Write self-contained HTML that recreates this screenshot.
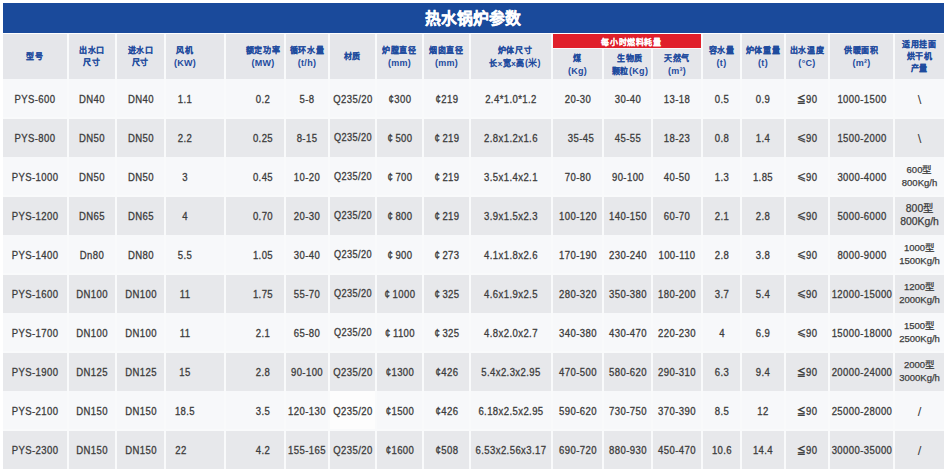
<!DOCTYPE html>
<html lang="zh-CN"><head><meta charset="utf-8"><title>热水锅炉参数</title>
<style>
html,body{margin:0;padding:0;background:#fff;}
body{width:950px;height:473px;position:relative;overflow:hidden;font-family:"Liberation Sans",sans-serif;}
.c{position:absolute;display:flex;align-items:center;justify-content:center;text-align:center;white-space:nowrap;}
.t{position:absolute;left:0;top:50%;width:300px;margin-left:-150px;transform:translateY(-50%);white-space:nowrap;text-align:center;}
.ttl{color:#fff;font-weight:bold;font-size:15.8px;-webkit-text-stroke:0.3px #fff;margin-left:-151px;transform:translateY(calc(-50% - 0.5px));}
.h{color:#1e4b9e;font-weight:900;font-size:8px;letter-spacing:0.6px;line-height:12px;-webkit-text-stroke:0.1px #1e4b9e;}
.d{color:#3c3c3c;font-size:10.6px;line-height:13px;font-weight:normal;-webkit-text-stroke:0.3px #3c3c3c;letter-spacing:0.45px;transform:translateY(calc(-50% + 1px)) scaleX(0.9);}
.le{font-size:9.5px;font-weight:normal;-webkit-text-stroke:0.5px #3c3c3c;}
.cs{margin-right:2.5px;}
.ct{}
.qs{font-size:10.2px;position:relative;top:-1.5px;}
.le2{position:relative;top:-1.5px;font-size:11.5px;font-weight:normal;-webkit-text-stroke:0.2px #3c3c3c;}
.d2{font-size:9.5px;line-height:12.9px;letter-spacing:0;-webkit-text-stroke:0.25px #3c3c3c;transform:translateY(calc(-50% + 0.5px)) scaleX(1);}
.d3{font-size:10.4px;line-height:13.3px;letter-spacing:0;-webkit-text-stroke:0.25px #3c3c3c;transform:translateY(calc(-50% + 0.5px)) scaleX(1);}
.sl{font-weight:normal;font-size:13px;letter-spacing:0;-webkit-text-stroke:0;transform:translateY(calc(-50% + 1.5px)) scaleX(1);}
.sub{transform:translateY(calc(-50% + 1.5px));}
.lat{font-size:9px;letter-spacing:0.3px;font-weight:bold;-webkit-text-stroke:0;}
.rd{color:#fff;font-weight:900;font-size:8px;letter-spacing:0.6px;-webkit-text-stroke:0.1px #fff;}
</style></head><body>

<div style="position:absolute;left:3px;top:3px;width:941px;height:30px;background:#1a4a9b"><div class="t ttl" style="left:470.5px">热水锅炉参数</div></div>
<div style="position:absolute;left:3px;top:34px;width:941px;height:435px;background:#f9fafb"></div>
<div style="position:absolute;left:3px;top:34px;width:64px;height:45px;background:#e5e6ea"><div class="t h" style="left:32px">型号</div></div>
<div style="position:absolute;left:69px;top:34px;width:46px;height:45px;background:#e5e6ea"><div class="t h" style="left:23px">出水口<br>尺寸</div></div>
<div style="position:absolute;left:117px;top:34px;width:47px;height:45px;background:#e5e6ea"><div class="t h" style="left:23.5px">进水口<br>尺寸</div></div>
<div style="position:absolute;left:166px;top:34px;width:58px;height:45px;background:#e5e6ea"><div class="t h" style="left:19px">风机<br><span class="lat">(KW)</span></div></div>
<div style="position:absolute;left:226px;top:34px;width:58px;height:45px;background:#e5e6ea"><div class="t h" style="left:37px">额定功率<br><span class="lat">(MW)</span></div></div>
<div style="position:absolute;left:286px;top:34px;width:42px;height:45px;background:#e5e6ea"><div class="t h" style="left:21px">循环水量<br><span class="lat">(t/h)</span></div></div>
<div style="position:absolute;left:330px;top:34px;width:45px;height:45px;background:#e5e6ea"><div class="t h" style="left:22.5px">材质</div></div>
<div style="position:absolute;left:377px;top:34px;width:45px;height:45px;background:#e5e6ea"><div class="t h" style="left:22.5px">炉膛直径<br><span class="lat">(mm)</span></div></div>
<div style="position:absolute;left:424px;top:34px;width:45px;height:45px;background:#e5e6ea"><div class="t h" style="left:22.5px">烟囱直径<br><span class="lat">(mm)</span></div></div>
<div style="position:absolute;left:471px;top:34px;width:80px;height:45px;background:#e5e6ea"><div class="t h" style="left:44px">炉体尺寸<br>长x宽x高<span class="lat">(米)</span></div></div>
<div style="position:absolute;left:703px;top:34px;width:37px;height:45px;background:#e5e6ea"><div class="t h" style="left:18.5px">容水量<br><span class="lat">(t)</span></div></div>
<div style="position:absolute;left:742px;top:34px;width:42px;height:45px;background:#e5e6ea"><div class="t h" style="left:21px">炉体重量<br><span class="lat">(t)</span></div></div>
<div style="position:absolute;left:786px;top:34px;width:42px;height:45px;background:#e5e6ea"><div class="t h" style="left:21px">出水温度<br><span class="lat">(°C)</span></div></div>
<div style="position:absolute;left:830px;top:34px;width:63px;height:45px;background:#e5e6ea"><div class="t h" style="left:31.5px">供暖面积<br><span class="lat">(m²)</span></div></div>
<div style="position:absolute;left:895px;top:34px;width:49px;height:45px;background:#e5e6ea"><div class="t h" style="left:24.5px">适用挂面<br>烘干机<br>产量</div></div>
<div style="position:absolute;left:553px;top:34px;width:148px;height:14px;background:#e0202b"><div class="t rd" style="left:78.6px">每小时燃料耗量</div></div>
<div style="position:absolute;left:553px;top:49px;width:49px;height:30px;background:#e5e6ea"><div class="t h sub" style="left:24.5px">煤<br><span class="lat">(Kg)</span></div></div>
<div style="position:absolute;left:604px;top:49px;width:47px;height:30px;background:#e5e6ea"><div class="t h sub" style="left:26px">生物质<br>颗粒<span class="lat">(Kg)</span></div></div>
<div style="position:absolute;left:653px;top:49px;width:48px;height:30px;background:#e5e6ea"><div class="t h sub" style="left:24px">天然气<br><span class="lat">(m³)</span></div></div>
<div style="position:absolute;left:3px;top:79px;width:64px;height:38px;background:#f7f8fa"><div class="t d" style="left:32px">PYS-600</div></div>
<div style="position:absolute;left:69px;top:79px;width:46px;height:38px;background:#f7f8fa"><div class="t d" style="left:23px">DN40</div></div>
<div style="position:absolute;left:117px;top:79px;width:47px;height:38px;background:#f7f8fa"><div class="t d" style="left:23.5px">DN40</div></div>
<div style="position:absolute;left:166px;top:79px;width:58px;height:38px;background:#f7f8fa"><div class="t d" style="left:19px">1.1</div></div>
<div style="position:absolute;left:226px;top:79px;width:58px;height:38px;background:#f7f8fa"><div class="t d" style="left:37px">0.2</div></div>
<div style="position:absolute;left:286px;top:79px;width:42px;height:38px;background:#f7f8fa"><div class="t d" style="left:21px">5-8</div></div>
<div style="position:absolute;left:330px;top:79px;width:45px;height:38px;background:#f7f8fa"><div class="t d" style="left:22.5px">Q235/20</div></div>
<div style="position:absolute;left:377px;top:79px;width:45px;height:38px;background:#f7f8fa"><div class="t d" style="left:22.5px"><span class="ct">¢</span>300</div></div>
<div style="position:absolute;left:424px;top:79px;width:45px;height:38px;background:#f7f8fa"><div class="t d" style="left:22.5px"><span class="ct">¢</span>219</div></div>
<div style="position:absolute;left:471px;top:79px;width:80px;height:38px;background:#f7f8fa"><div class="t d" style="left:40px">2.4*1.0*1.2</div></div>
<div style="position:absolute;left:553px;top:79px;width:49px;height:38px;background:#f7f8fa"><div class="t d" style="left:24.5px">20-30</div></div>
<div style="position:absolute;left:604px;top:79px;width:47px;height:38px;background:#f7f8fa"><div class="t d" style="left:23.5px">30-40</div></div>
<div style="position:absolute;left:653px;top:79px;width:48px;height:38px;background:#f7f8fa"><div class="t d" style="left:24px">13-18</div></div>
<div style="position:absolute;left:703px;top:79px;width:37px;height:38px;background:#f7f8fa"><div class="t d" style="left:18.5px">0.5</div></div>
<div style="position:absolute;left:742px;top:79px;width:42px;height:38px;background:#f7f8fa"><div class="t d" style="left:21px">0.9</div></div>
<div style="position:absolute;left:786px;top:79px;width:42px;height:38px;background:#f7f8fa"><div class="t d" style="left:21px"><span class="le">≦</span>90</div></div>
<div style="position:absolute;left:830px;top:79px;width:63px;height:38px;background:#f7f8fa"><div class="t d" style="left:31.5px">1000-1500</div></div>
<div style="position:absolute;left:895px;top:79px;width:49px;height:38px;background:#f7f8fa"><div class="t d sl" style="left:24.5px">\</div></div>
<div style="position:absolute;left:3px;top:119px;width:64px;height:38px;background:#e7e8eb"><div class="t d" style="left:32px;top:calc(50% + -0.8px)">PYS-800</div></div>
<div style="position:absolute;left:69px;top:119px;width:46px;height:38px;background:#e7e8eb"><div class="t d" style="left:23px;top:calc(50% + -0.8px)">DN50</div></div>
<div style="position:absolute;left:117px;top:119px;width:47px;height:38px;background:#e7e8eb"><div class="t d" style="left:23.5px;top:calc(50% + -0.8px)">DN50</div></div>
<div style="position:absolute;left:166px;top:119px;width:58px;height:38px;background:#e7e8eb"><div class="t d" style="left:19px;top:calc(50% + -0.8px)">2.2</div></div>
<div style="position:absolute;left:226px;top:119px;width:58px;height:38px;background:#e7e8eb"><div class="t d" style="left:37px;top:calc(50% + -0.8px)">0.25</div></div>
<div style="position:absolute;left:286px;top:119px;width:42px;height:38px;background:#e7e8eb"><div class="t d" style="left:21px;top:calc(50% + -0.8px)">8-15</div></div>
<div style="position:absolute;left:330px;top:119px;width:45px;height:38px;background:#e7e8eb"><div class="t d" style="left:22.5px;top:calc(50% + -0.8px)"><span class="qs">Q235/20</span></div></div>
<div style="position:absolute;left:377px;top:119px;width:45px;height:38px;background:#e7e8eb"><div class="t d" style="left:22.5px;top:calc(50% + -0.8px)"><span class="cs ct">¢</span>500</div></div>
<div style="position:absolute;left:424px;top:119px;width:45px;height:38px;background:#e7e8eb"><div class="t d" style="left:22.5px;top:calc(50% + -0.8px)"><span class="cs ct">¢</span>219</div></div>
<div style="position:absolute;left:471px;top:119px;width:80px;height:38px;background:#e7e8eb"><div class="t d" style="left:40px;top:calc(50% + -0.8px)">2.8x1.2x1.6</div></div>
<div style="position:absolute;left:553px;top:119px;width:49px;height:38px;background:#e7e8eb"><div class="t d" style="left:27.5px;top:calc(50% + -0.8px)">35-45</div></div>
<div style="position:absolute;left:604px;top:119px;width:47px;height:38px;background:#e7e8eb"><div class="t d" style="left:23.5px;top:calc(50% + -0.8px)">45-55</div></div>
<div style="position:absolute;left:653px;top:119px;width:48px;height:38px;background:#e7e8eb"><div class="t d" style="left:24px;top:calc(50% + -0.8px)">18-23</div></div>
<div style="position:absolute;left:703px;top:119px;width:37px;height:38px;background:#e7e8eb"><div class="t d" style="left:18.5px;top:calc(50% + -0.8px)">0.8</div></div>
<div style="position:absolute;left:742px;top:119px;width:42px;height:38px;background:#e7e8eb"><div class="t d" style="left:21px;top:calc(50% + -0.8px)">1.4</div></div>
<div style="position:absolute;left:786px;top:119px;width:42px;height:38px;background:#e7e8eb"><div class="t d" style="left:21px;top:calc(50% + -0.8px)"><span class="le2">⩽</span>90</div></div>
<div style="position:absolute;left:830px;top:119px;width:63px;height:38px;background:#e7e8eb"><div class="t d" style="left:31.5px;top:calc(50% + -0.8px)">1500-2000</div></div>
<div style="position:absolute;left:895px;top:119px;width:49px;height:38px;background:#e7e8eb"><div class="t d sl" style="left:24.5px;top:calc(50% + -0.8px)">\</div></div>
<div style="position:absolute;left:3px;top:157px;width:64px;height:38px;background:#f7f8fa"><div class="t d" style="left:32px">PYS-1000</div></div>
<div style="position:absolute;left:69px;top:157px;width:46px;height:38px;background:#f7f8fa"><div class="t d" style="left:23px">DN50</div></div>
<div style="position:absolute;left:117px;top:157px;width:47px;height:38px;background:#f7f8fa"><div class="t d" style="left:23.5px">DN50</div></div>
<div style="position:absolute;left:166px;top:157px;width:58px;height:38px;background:#f7f8fa"><div class="t d" style="left:19px">3</div></div>
<div style="position:absolute;left:226px;top:157px;width:58px;height:38px;background:#f7f8fa"><div class="t d" style="left:37px">0.45</div></div>
<div style="position:absolute;left:286px;top:157px;width:42px;height:38px;background:#f7f8fa"><div class="t d" style="left:21px">10-20</div></div>
<div style="position:absolute;left:330px;top:157px;width:45px;height:38px;background:#f7f8fa"><div class="t d" style="left:22.5px"><span class="qs">Q235/20</span></div></div>
<div style="position:absolute;left:377px;top:157px;width:45px;height:38px;background:#f7f8fa"><div class="t d" style="left:22.5px"><span class="cs ct">¢</span>700</div></div>
<div style="position:absolute;left:424px;top:157px;width:45px;height:38px;background:#f7f8fa"><div class="t d" style="left:22.5px"><span class="cs ct">¢</span>219</div></div>
<div style="position:absolute;left:471px;top:157px;width:80px;height:38px;background:#f7f8fa"><div class="t d" style="left:40px">3.5x1.4x2.1</div></div>
<div style="position:absolute;left:553px;top:157px;width:49px;height:38px;background:#f7f8fa"><div class="t d" style="left:24.5px">70-80</div></div>
<div style="position:absolute;left:604px;top:157px;width:47px;height:38px;background:#f7f8fa"><div class="t d" style="left:23.5px">90-100</div></div>
<div style="position:absolute;left:653px;top:157px;width:48px;height:38px;background:#f7f8fa"><div class="t d" style="left:24px">40-50</div></div>
<div style="position:absolute;left:703px;top:157px;width:37px;height:38px;background:#f7f8fa"><div class="t d" style="left:18.5px">1.3</div></div>
<div style="position:absolute;left:742px;top:157px;width:42px;height:38px;background:#f7f8fa"><div class="t d" style="left:21px">1.85</div></div>
<div style="position:absolute;left:786px;top:157px;width:42px;height:38px;background:#f7f8fa"><div class="t d" style="left:21px"><span class="le2">⩽</span>90</div></div>
<div style="position:absolute;left:830px;top:157px;width:63px;height:38px;background:#f7f8fa"><div class="t d" style="left:31.5px">3000-4000</div></div>
<div style="position:absolute;left:895px;top:157px;width:49px;height:38px;background:#f7f8fa"><div class="t d d2" style="left:24.5px">600型<br>800Kg/h</div></div>
<div style="position:absolute;left:3px;top:197px;width:64px;height:38px;background:#e7e8eb"><div class="t d" style="left:32px;top:calc(50% + -0.8px)">PYS-1200</div></div>
<div style="position:absolute;left:69px;top:197px;width:46px;height:38px;background:#e7e8eb"><div class="t d" style="left:23px;top:calc(50% + -0.8px)">DN65</div></div>
<div style="position:absolute;left:117px;top:197px;width:47px;height:38px;background:#e7e8eb"><div class="t d" style="left:23.5px;top:calc(50% + -0.8px)">DN65</div></div>
<div style="position:absolute;left:166px;top:197px;width:58px;height:38px;background:#e7e8eb"><div class="t d" style="left:19px;top:calc(50% + -0.8px)">4</div></div>
<div style="position:absolute;left:226px;top:197px;width:58px;height:38px;background:#e7e8eb"><div class="t d" style="left:37px;top:calc(50% + -0.8px)">0.70</div></div>
<div style="position:absolute;left:286px;top:197px;width:42px;height:38px;background:#e7e8eb"><div class="t d" style="left:21px;top:calc(50% + -0.8px)">20-30</div></div>
<div style="position:absolute;left:330px;top:197px;width:45px;height:38px;background:#e7e8eb"><div class="t d" style="left:22.5px;top:calc(50% + -0.8px)"><span class="qs">Q235/20</span></div></div>
<div style="position:absolute;left:377px;top:197px;width:45px;height:38px;background:#e7e8eb"><div class="t d" style="left:22.5px;top:calc(50% + -0.8px)"><span class="cs ct">¢</span>800</div></div>
<div style="position:absolute;left:424px;top:197px;width:45px;height:38px;background:#e7e8eb"><div class="t d" style="left:22.5px;top:calc(50% + -0.8px)"><span class="cs ct">¢</span>219</div></div>
<div style="position:absolute;left:471px;top:197px;width:80px;height:38px;background:#e7e8eb"><div class="t d" style="left:40px;top:calc(50% + -0.8px)">3.9x1.5x2.3</div></div>
<div style="position:absolute;left:553px;top:197px;width:49px;height:38px;background:#e7e8eb"><div class="t d" style="left:24.5px;top:calc(50% + -0.8px)">100-120</div></div>
<div style="position:absolute;left:604px;top:197px;width:47px;height:38px;background:#e7e8eb"><div class="t d" style="left:23.5px;top:calc(50% + -0.8px)">140-150</div></div>
<div style="position:absolute;left:653px;top:197px;width:48px;height:38px;background:#e7e8eb"><div class="t d" style="left:24px;top:calc(50% + -0.8px)">60-70</div></div>
<div style="position:absolute;left:703px;top:197px;width:37px;height:38px;background:#e7e8eb"><div class="t d" style="left:18.5px;top:calc(50% + -0.8px)">2.1</div></div>
<div style="position:absolute;left:742px;top:197px;width:42px;height:38px;background:#e7e8eb"><div class="t d" style="left:21px;top:calc(50% + -0.8px)">2.8</div></div>
<div style="position:absolute;left:786px;top:197px;width:42px;height:38px;background:#e7e8eb"><div class="t d" style="left:21px;top:calc(50% + -0.8px)"><span class="le2">⩽</span>90</div></div>
<div style="position:absolute;left:830px;top:197px;width:63px;height:38px;background:#e7e8eb"><div class="t d" style="left:31.5px;top:calc(50% + -0.8px)">5000-6000</div></div>
<div style="position:absolute;left:895px;top:197px;width:49px;height:38px;background:#e7e8eb"><div class="t d d3" style="left:24.5px;top:calc(50% + -0.8px)">800型<br>800Kg/h</div></div>
<div style="position:absolute;left:3px;top:235px;width:64px;height:38px;background:#f7f8fa"><div class="t d" style="left:32px">PYS-1400</div></div>
<div style="position:absolute;left:69px;top:235px;width:46px;height:38px;background:#f7f8fa"><div class="t d" style="left:23px">Dn80</div></div>
<div style="position:absolute;left:117px;top:235px;width:47px;height:38px;background:#f7f8fa"><div class="t d" style="left:23.5px">DN80</div></div>
<div style="position:absolute;left:166px;top:235px;width:58px;height:38px;background:#f7f8fa"><div class="t d" style="left:19px">5.5</div></div>
<div style="position:absolute;left:226px;top:235px;width:58px;height:38px;background:#f7f8fa"><div class="t d" style="left:37px">1.05</div></div>
<div style="position:absolute;left:286px;top:235px;width:42px;height:38px;background:#f7f8fa"><div class="t d" style="left:21px">30-40</div></div>
<div style="position:absolute;left:330px;top:235px;width:45px;height:38px;background:#f7f8fa"><div class="t d" style="left:22.5px"><span class="qs">Q235/20</span></div></div>
<div style="position:absolute;left:377px;top:235px;width:45px;height:38px;background:#f7f8fa"><div class="t d" style="left:22.5px"><span class="cs ct">¢</span>900</div></div>
<div style="position:absolute;left:424px;top:235px;width:45px;height:38px;background:#f7f8fa"><div class="t d" style="left:22.5px"><span class="cs ct">¢</span>273</div></div>
<div style="position:absolute;left:471px;top:235px;width:80px;height:38px;background:#f7f8fa"><div class="t d" style="left:40px">4.1x1.8x2.6</div></div>
<div style="position:absolute;left:553px;top:235px;width:49px;height:38px;background:#f7f8fa"><div class="t d" style="left:24.5px">170-190</div></div>
<div style="position:absolute;left:604px;top:235px;width:47px;height:38px;background:#f7f8fa"><div class="t d" style="left:23.5px">230-240</div></div>
<div style="position:absolute;left:653px;top:235px;width:48px;height:38px;background:#f7f8fa"><div class="t d" style="left:24px">100-110</div></div>
<div style="position:absolute;left:703px;top:235px;width:37px;height:38px;background:#f7f8fa"><div class="t d" style="left:18.5px">2.8</div></div>
<div style="position:absolute;left:742px;top:235px;width:42px;height:38px;background:#f7f8fa"><div class="t d" style="left:21px">3.8</div></div>
<div style="position:absolute;left:786px;top:235px;width:42px;height:38px;background:#f7f8fa"><div class="t d" style="left:21px"><span class="le2">⩽</span>90</div></div>
<div style="position:absolute;left:830px;top:235px;width:63px;height:38px;background:#f7f8fa"><div class="t d" style="left:31.5px">8000-9000</div></div>
<div style="position:absolute;left:895px;top:235px;width:49px;height:38px;background:#f7f8fa"><div class="t d d2" style="left:24.5px">1000型<br>1500Kg/h</div></div>
<div style="position:absolute;left:3px;top:275px;width:64px;height:38px;background:#e7e8eb"><div class="t d" style="left:32px;top:calc(50% + -0.8px)">PYS-1600</div></div>
<div style="position:absolute;left:69px;top:275px;width:46px;height:38px;background:#e7e8eb"><div class="t d" style="left:23px;top:calc(50% + -0.8px)">DN100</div></div>
<div style="position:absolute;left:117px;top:275px;width:47px;height:38px;background:#e7e8eb"><div class="t d" style="left:23.5px;top:calc(50% + -0.8px)">DN100</div></div>
<div style="position:absolute;left:166px;top:275px;width:58px;height:38px;background:#e7e8eb"><div class="t d" style="left:19px;top:calc(50% + -0.8px)">11</div></div>
<div style="position:absolute;left:226px;top:275px;width:58px;height:38px;background:#e7e8eb"><div class="t d" style="left:37px;top:calc(50% + -0.8px)">1.75</div></div>
<div style="position:absolute;left:286px;top:275px;width:42px;height:38px;background:#e7e8eb"><div class="t d" style="left:21px;top:calc(50% + -0.8px)">55-70</div></div>
<div style="position:absolute;left:330px;top:275px;width:45px;height:38px;background:#e7e8eb"><div class="t d" style="left:22.5px;top:calc(50% + -0.8px)"><span class="qs">Q235/20</span></div></div>
<div style="position:absolute;left:377px;top:275px;width:45px;height:38px;background:#e7e8eb"><div class="t d" style="left:22.5px;top:calc(50% + -0.8px)"><span class="cs ct">¢</span>1000</div></div>
<div style="position:absolute;left:424px;top:275px;width:45px;height:38px;background:#e7e8eb"><div class="t d" style="left:22.5px;top:calc(50% + -0.8px)"><span class="cs ct">¢</span>325</div></div>
<div style="position:absolute;left:471px;top:275px;width:80px;height:38px;background:#e7e8eb"><div class="t d" style="left:40px;top:calc(50% + -0.8px)">4.6x1.9x2.5</div></div>
<div style="position:absolute;left:553px;top:275px;width:49px;height:38px;background:#e7e8eb"><div class="t d" style="left:24.5px;top:calc(50% + -0.8px)">280-320</div></div>
<div style="position:absolute;left:604px;top:275px;width:47px;height:38px;background:#e7e8eb"><div class="t d" style="left:23.5px;top:calc(50% + -0.8px)">350-380</div></div>
<div style="position:absolute;left:653px;top:275px;width:48px;height:38px;background:#e7e8eb"><div class="t d" style="left:24px;top:calc(50% + -0.8px)">180-200</div></div>
<div style="position:absolute;left:703px;top:275px;width:37px;height:38px;background:#e7e8eb"><div class="t d" style="left:18.5px;top:calc(50% + -0.8px)">3.7</div></div>
<div style="position:absolute;left:742px;top:275px;width:42px;height:38px;background:#e7e8eb"><div class="t d" style="left:21px;top:calc(50% + -0.8px)">5.4</div></div>
<div style="position:absolute;left:786px;top:275px;width:42px;height:38px;background:#e7e8eb"><div class="t d" style="left:21px;top:calc(50% + -0.8px)"><span class="le2">⩽</span>90</div></div>
<div style="position:absolute;left:830px;top:275px;width:63px;height:38px;background:#e7e8eb"><div class="t d" style="left:31.5px;top:calc(50% + -0.8px)">12000-15000</div></div>
<div style="position:absolute;left:895px;top:275px;width:49px;height:38px;background:#e7e8eb"><div class="t d d2" style="left:24.5px;top:calc(50% + -0.8px)">1200型<br>2000Kg/h</div></div>
<div style="position:absolute;left:3px;top:313px;width:64px;height:38px;background:#f7f8fa"><div class="t d" style="left:32px">PYS-1700</div></div>
<div style="position:absolute;left:69px;top:313px;width:46px;height:38px;background:#f7f8fa"><div class="t d" style="left:23px">DN100</div></div>
<div style="position:absolute;left:117px;top:313px;width:47px;height:38px;background:#f7f8fa"><div class="t d" style="left:23.5px">DN100</div></div>
<div style="position:absolute;left:166px;top:313px;width:58px;height:38px;background:#f7f8fa"><div class="t d" style="left:19px">11</div></div>
<div style="position:absolute;left:226px;top:313px;width:58px;height:38px;background:#f7f8fa"><div class="t d" style="left:37px">2.1</div></div>
<div style="position:absolute;left:286px;top:313px;width:42px;height:38px;background:#f7f8fa"><div class="t d" style="left:21px">65-80</div></div>
<div style="position:absolute;left:330px;top:313px;width:45px;height:38px;background:#f7f8fa"><div class="t d" style="left:22.5px"><span class="qs">Q235/20</span></div></div>
<div style="position:absolute;left:377px;top:313px;width:45px;height:38px;background:#f7f8fa"><div class="t d" style="left:22.5px"><span class="cs ct">¢</span>1100</div></div>
<div style="position:absolute;left:424px;top:313px;width:45px;height:38px;background:#f7f8fa"><div class="t d" style="left:22.5px"><span class="cs ct">¢</span>325</div></div>
<div style="position:absolute;left:471px;top:313px;width:80px;height:38px;background:#f7f8fa"><div class="t d" style="left:40px">4.8x2.0x2.7</div></div>
<div style="position:absolute;left:553px;top:313px;width:49px;height:38px;background:#f7f8fa"><div class="t d" style="left:24.5px">340-380</div></div>
<div style="position:absolute;left:604px;top:313px;width:47px;height:38px;background:#f7f8fa"><div class="t d" style="left:23.5px">430-470</div></div>
<div style="position:absolute;left:653px;top:313px;width:48px;height:38px;background:#f7f8fa"><div class="t d" style="left:24px">220-230</div></div>
<div style="position:absolute;left:703px;top:313px;width:37px;height:38px;background:#f7f8fa"><div class="t d" style="left:18.5px">4</div></div>
<div style="position:absolute;left:742px;top:313px;width:42px;height:38px;background:#f7f8fa"><div class="t d" style="left:21px">6.9</div></div>
<div style="position:absolute;left:786px;top:313px;width:42px;height:38px;background:#f7f8fa"><div class="t d" style="left:21px"><span class="le2">⩽</span>90</div></div>
<div style="position:absolute;left:830px;top:313px;width:63px;height:38px;background:#f7f8fa"><div class="t d" style="left:31.5px">15000-18000</div></div>
<div style="position:absolute;left:895px;top:313px;width:49px;height:38px;background:#f7f8fa"><div class="t d d2" style="left:24.5px">1500型<br>2500Kg/h</div></div>
<div style="position:absolute;left:3px;top:353px;width:64px;height:38px;background:#e7e8eb"><div class="t d" style="left:32px;top:calc(50% + -0.8px)">PYS-1900</div></div>
<div style="position:absolute;left:69px;top:353px;width:46px;height:38px;background:#e7e8eb"><div class="t d" style="left:23px;top:calc(50% + -0.8px)">DN125</div></div>
<div style="position:absolute;left:117px;top:353px;width:47px;height:38px;background:#e7e8eb"><div class="t d" style="left:23.5px;top:calc(50% + -0.8px)">DN125</div></div>
<div style="position:absolute;left:166px;top:353px;width:58px;height:38px;background:#e7e8eb"><div class="t d" style="left:19px;top:calc(50% + -0.8px)">15</div></div>
<div style="position:absolute;left:226px;top:353px;width:58px;height:38px;background:#e7e8eb"><div class="t d" style="left:37px;top:calc(50% + -0.8px)">2.8</div></div>
<div style="position:absolute;left:286px;top:353px;width:42px;height:38px;background:#e7e8eb"><div class="t d" style="left:21px;top:calc(50% + -0.8px)">90-100</div></div>
<div style="position:absolute;left:330px;top:353px;width:45px;height:38px;background:#e7e8eb"><div class="t d" style="left:22.5px;top:calc(50% + -0.8px)">Q235/20</div></div>
<div style="position:absolute;left:377px;top:353px;width:45px;height:38px;background:#e7e8eb"><div class="t d" style="left:22.5px;top:calc(50% + -0.8px)"><span class="ct">¢</span>1300</div></div>
<div style="position:absolute;left:424px;top:353px;width:45px;height:38px;background:#e7e8eb"><div class="t d" style="left:22.5px;top:calc(50% + -0.8px)"><span class="ct">¢</span>426</div></div>
<div style="position:absolute;left:471px;top:353px;width:80px;height:38px;background:#e7e8eb"><div class="t d" style="left:40px;top:calc(50% + -0.8px)">5.4x2.3x2.95</div></div>
<div style="position:absolute;left:553px;top:353px;width:49px;height:38px;background:#e7e8eb"><div class="t d" style="left:24.5px;top:calc(50% + -0.8px)">470-500</div></div>
<div style="position:absolute;left:604px;top:353px;width:47px;height:38px;background:#e7e8eb"><div class="t d" style="left:23.5px;top:calc(50% + -0.8px)">580-620</div></div>
<div style="position:absolute;left:653px;top:353px;width:48px;height:38px;background:#e7e8eb"><div class="t d" style="left:24px;top:calc(50% + -0.8px)">290-310</div></div>
<div style="position:absolute;left:703px;top:353px;width:37px;height:38px;background:#e7e8eb"><div class="t d" style="left:18.5px;top:calc(50% + -0.8px)">6.3</div></div>
<div style="position:absolute;left:742px;top:353px;width:42px;height:38px;background:#e7e8eb"><div class="t d" style="left:21px;top:calc(50% + -0.8px)">9.4</div></div>
<div style="position:absolute;left:786px;top:353px;width:42px;height:38px;background:#e7e8eb"><div class="t d" style="left:21px;top:calc(50% + -0.8px)"><span class="le">≦</span>90</div></div>
<div style="position:absolute;left:830px;top:353px;width:63px;height:38px;background:#e7e8eb"><div class="t d" style="left:31.5px;top:calc(50% + -0.8px)">20000-24000</div></div>
<div style="position:absolute;left:895px;top:353px;width:49px;height:38px;background:#e7e8eb"><div class="t d d2" style="left:24.5px;top:calc(50% + -0.8px)">2000型<br>3000Kg/h</div></div>
<div style="position:absolute;left:3px;top:391px;width:64px;height:38px;background:#f7f8fa"><div class="t d" style="left:32px">PYS-2100</div></div>
<div style="position:absolute;left:69px;top:391px;width:46px;height:38px;background:#f7f8fa"><div class="t d" style="left:23px">DN150</div></div>
<div style="position:absolute;left:117px;top:391px;width:47px;height:38px;background:#f7f8fa"><div class="t d" style="left:23.5px">DN150</div></div>
<div style="position:absolute;left:166px;top:391px;width:58px;height:38px;background:#f7f8fa"><div class="t d" style="left:19px">18.5</div></div>
<div style="position:absolute;left:226px;top:391px;width:58px;height:38px;background:#f7f8fa"><div class="t d" style="left:37px">3.5</div></div>
<div style="position:absolute;left:286px;top:391px;width:42px;height:38px;background:#f7f8fa"><div class="t d" style="left:21px">120-130</div></div>
<div style="position:absolute;left:330px;top:391px;width:45px;height:38px;background:#fdfdfd"><div class="t d" style="left:22.5px">Q235/20</div></div>
<div style="position:absolute;left:377px;top:391px;width:45px;height:38px;background:#f7f8fa"><div class="t d" style="left:22.5px"><span class="ct">¢</span>1500</div></div>
<div style="position:absolute;left:424px;top:391px;width:45px;height:38px;background:#f7f8fa"><div class="t d" style="left:22.5px"><span class="ct">¢</span>426</div></div>
<div style="position:absolute;left:471px;top:391px;width:80px;height:38px;background:#f7f8fa"><div class="t d" style="left:40px">6.18x2.5x2.95</div></div>
<div style="position:absolute;left:553px;top:391px;width:49px;height:38px;background:#f7f8fa"><div class="t d" style="left:24.5px">590-620</div></div>
<div style="position:absolute;left:604px;top:391px;width:47px;height:38px;background:#f7f8fa"><div class="t d" style="left:23.5px">730-750</div></div>
<div style="position:absolute;left:653px;top:391px;width:48px;height:38px;background:#f7f8fa"><div class="t d" style="left:24px">370-390</div></div>
<div style="position:absolute;left:703px;top:391px;width:37px;height:38px;background:#f7f8fa"><div class="t d" style="left:18.5px">8.5</div></div>
<div style="position:absolute;left:742px;top:391px;width:42px;height:38px;background:#f7f8fa"><div class="t d" style="left:21px">12</div></div>
<div style="position:absolute;left:786px;top:391px;width:42px;height:38px;background:#f7f8fa"><div class="t d" style="left:21px"><span class="le">≦</span>90</div></div>
<div style="position:absolute;left:830px;top:391px;width:63px;height:38px;background:#f7f8fa"><div class="t d" style="left:31.5px">25000-28000</div></div>
<div style="position:absolute;left:895px;top:391px;width:49px;height:38px;background:#f7f8fa"><div class="t d sl" style="left:24.5px">/</div></div>
<div style="position:absolute;left:3px;top:431px;width:64px;height:38px;background:#e7e8eb"><div class="t d" style="left:32px;top:calc(50% + -0.8px)">PYS-2300</div></div>
<div style="position:absolute;left:69px;top:431px;width:46px;height:38px;background:#e7e8eb"><div class="t d" style="left:23px;top:calc(50% + -0.8px)">DN150</div></div>
<div style="position:absolute;left:117px;top:431px;width:47px;height:38px;background:#e7e8eb"><div class="t d" style="left:23.5px;top:calc(50% + -0.8px)">DN150</div></div>
<div style="position:absolute;left:166px;top:431px;width:58px;height:38px;background:#e7e8eb"><div class="t d" style="left:14.5px;top:calc(50% + -0.8px)">22</div></div>
<div style="position:absolute;left:226px;top:431px;width:58px;height:38px;background:#e7e8eb"><div class="t d" style="left:37px;top:calc(50% + -0.8px)">4.2</div></div>
<div style="position:absolute;left:286px;top:431px;width:42px;height:38px;background:#e7e8eb"><div class="t d" style="left:21px;top:calc(50% + -0.8px)">155-165</div></div>
<div style="position:absolute;left:330px;top:431px;width:45px;height:38px;background:#e7e8eb"><div class="t d" style="left:22.5px;top:calc(50% + -0.8px)">Q235/20</div></div>
<div style="position:absolute;left:377px;top:431px;width:45px;height:38px;background:#e7e8eb"><div class="t d" style="left:22.5px;top:calc(50% + -0.8px)"><span class="ct">¢</span>1600</div></div>
<div style="position:absolute;left:424px;top:431px;width:45px;height:38px;background:#e7e8eb"><div class="t d" style="left:22.5px;top:calc(50% + -0.8px)"><span class="ct">¢</span>508</div></div>
<div style="position:absolute;left:471px;top:431px;width:80px;height:38px;background:#e7e8eb"><div class="t d" style="left:40px;top:calc(50% + -0.8px)">6.53x2.56x3.17</div></div>
<div style="position:absolute;left:553px;top:431px;width:49px;height:38px;background:#e7e8eb"><div class="t d" style="left:24.5px;top:calc(50% + -0.8px)">690-720</div></div>
<div style="position:absolute;left:604px;top:431px;width:47px;height:38px;background:#e7e8eb"><div class="t d" style="left:23.5px;top:calc(50% + -0.8px)">880-930</div></div>
<div style="position:absolute;left:653px;top:431px;width:48px;height:38px;background:#e7e8eb"><div class="t d" style="left:24px;top:calc(50% + -0.8px)">450-470</div></div>
<div style="position:absolute;left:703px;top:431px;width:37px;height:38px;background:#e7e8eb"><div class="t d" style="left:18.5px;top:calc(50% + -0.8px)">10.6</div></div>
<div style="position:absolute;left:742px;top:431px;width:42px;height:38px;background:#e7e8eb"><div class="t d" style="left:21px;top:calc(50% + -0.8px)">14.4</div></div>
<div style="position:absolute;left:786px;top:431px;width:42px;height:38px;background:#e7e8eb"><div class="t d" style="left:21px;top:calc(50% + -0.8px)"><span class="le">≦</span>90</div></div>
<div style="position:absolute;left:830px;top:431px;width:63px;height:38px;background:#e7e8eb"><div class="t d" style="left:31.5px;top:calc(50% + -0.8px)">30000-35000</div></div>
<div style="position:absolute;left:895px;top:431px;width:49px;height:38px;background:#e7e8eb"><div class="t d sl" style="left:24.5px;top:calc(50% + -0.8px)">/</div></div>
</body></html>
